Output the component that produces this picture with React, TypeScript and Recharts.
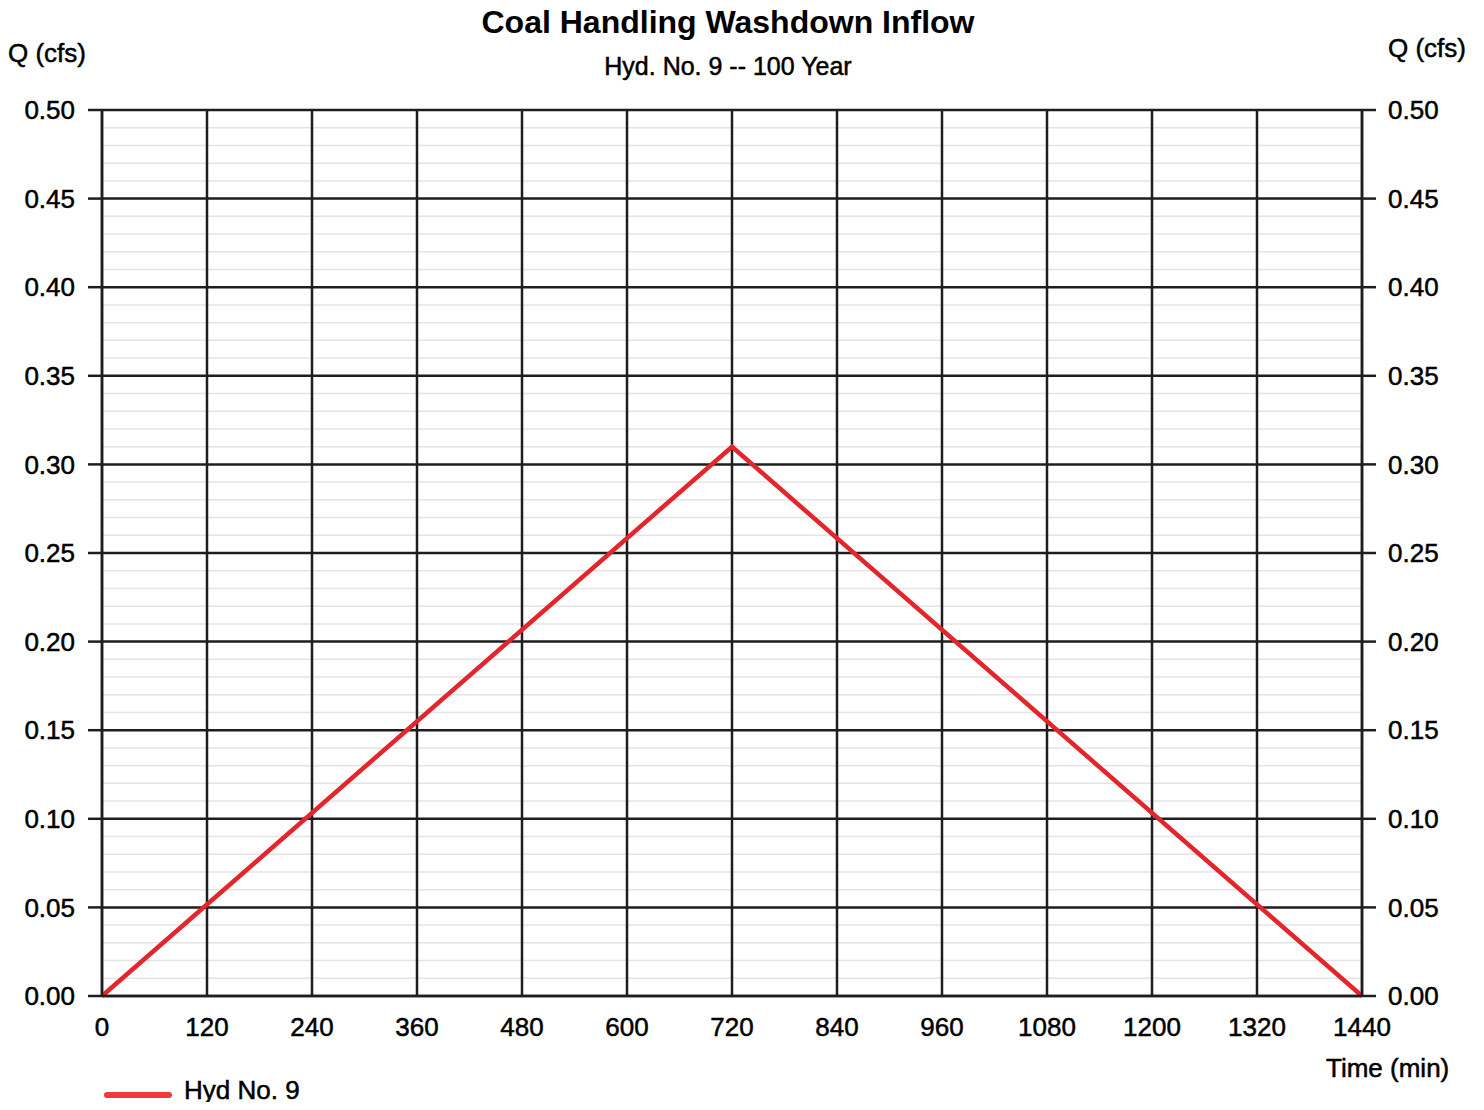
import React from "react";
import {
  LineChart,
  Line,
  XAxis,
  YAxis,
  ReferenceLine,
} from "recharts";

// hydrograph ordinates
const times = [0, 720, 1440];
const flows = [0, 0.31, 0];

const xTicks = [0, 120, 240, 360, 480, 600, 720, 840, 960, 1080, 1200, 1320, 1440];
const yTicks = [0, 0.05, 0.1, 0.15, 0.2, 0.25, 0.3, 0.35, 0.4, 0.45, 0.5];
const minorSteps = [0.01, 0.02, 0.03, 0.04];

const data = times.map((t, i) => ({ t, q: flows[i] }));
const minorY = yTicks
  .slice(0, -1)
  .flatMap((v) => minorSteps.map((s) => Math.round((v + s) * 100) / 100));

const font = "'Liberation Sans', Arial, sans-serif";
const tickStyle = {
  fontSize: 26,
  fill: "#000",
  stroke: "#000",
  strokeWidth: 0.5,
  fontFamily: font,
};
const ink = "#1e1e1e";
const thick = { WebkitTextStroke: "0.5px #000" } as React.CSSProperties;

export default function App() {
  return (
    <div
      style={{
        position: "relative",
        width: 1484,
        height: 1110,
        margin: -8,
        background: "#fff",
        fontFamily: font,
        color: "#000",
        overflow: "hidden",
      }}
    >
      <LineChart
        width={1484}
        height={1110}
        data={data}
        margin={{ top: 110, right: 22, bottom: 54, left: 2 }}
      >
        <XAxis
          dataKey="t"
          type="number"
          domain={[0, 1440]}
          ticks={xTicks}
          tick={tickStyle}
          tickLine={false}
          tickSize={8}
          tickMargin={14}
          axisLine={{ stroke: ink, strokeWidth: 2.5 }}
          height={60}
          interval={0}
        />
        <YAxis
          yAxisId="left"
          domain={[0, 0.5]}
          ticks={yTicks}
          tickFormatter={(v: number) => v.toFixed(2)}
          tick={tickStyle}
          tickSize={14}
          tickMargin={13}
          tickLine={{ stroke: ink, strokeWidth: 2.5 }}
          axisLine={{ stroke: ink, strokeWidth: 2.5 }}
          width={100}
          interval={0}
        />
        <YAxis
          yAxisId="right"
          orientation="right"
          domain={[0, 0.5]}
          allowDataOverflow
          ticks={yTicks}
          tickFormatter={(v: number) => v.toFixed(2)}
          tick={tickStyle}
          tickSize={14}
          tickMargin={12}
          tickLine={{ stroke: ink, strokeWidth: 2.5 }}
          axisLine={{ stroke: ink, strokeWidth: 2.5 }}
          width={100}
          interval={0}
        />
        {minorY.map((v) => (
          <ReferenceLine
            key={"m" + v}
            yAxisId="left"
            y={v}
            stroke="#e4e4e4"
            strokeWidth={1.5}
          />
        ))}
        {yTicks.map((v) => (
          <ReferenceLine
            key={"y" + v}
            yAxisId="left"
            y={v}
            stroke={ink}
            strokeWidth={2.5}
          />
        ))}
        {xTicks.map((v) => (
          <ReferenceLine
            key={"x" + v}
            yAxisId="left"
            x={v}
            stroke={ink}
            strokeWidth={2.5}
          />
        ))}
        {/* same series, unstroked, so the right-hand scale gets drawn */}
        <Line
          yAxisId="right"
          dataKey="q"
          stroke="none"
          dot={false}
          activeDot={false}
          legendType="none"
          isAnimationActive={false}
        />
        <Line
          yAxisId="left"
          type="linear"
          dataKey="q"
          stroke="#e3262c"
          strokeWidth={4.5}
          dot={false}
          isAnimationActive={false}
        />
      </LineChart>

      <div
        style={{
          position: "absolute",
          left: 0,
          width: 1456,
          top: 4,
          textAlign: "center",
          fontSize: 32,
          fontWeight: "bold",
          lineHeight: "36px",
        }}
      >
        Coal Handling Washdown Inflow
      </div>
      <div
        style={{
          position: "absolute",
          left: 0,
          width: 1456,
          top: 52,
          textAlign: "center",
          fontSize: 25,
          lineHeight: "28px",
          ...thick,
        }}
      >
        Hyd. No. 9 -- 100 Year
      </div>
      <div style={{ position: "absolute", left: 8, top: 38, fontSize: 26, lineHeight: "30px", ...thick }}>
        Q (cfs)
      </div>
      <div style={{ position: "absolute", left: 1388, top: 33, fontSize: 26, lineHeight: "30px", ...thick }}>
        Q (cfs)
      </div>
      <div style={{ position: "absolute", left: 1326, top: 1053, fontSize: 26, lineHeight: "30px", ...thick }}>
        Time (min)
      </div>
      <div
        style={{
          position: "absolute",
          left: 104,
          top: 1092,
          width: 68,
          height: 6,
          borderRadius: 3,
          background: "#f03a3a",
        }}
      />
      <div style={{ position: "absolute", left: 184, top: 1075, fontSize: 26, lineHeight: "30px", ...thick }}>
        Hyd No. 9
      </div>
    </div>
  );
}
